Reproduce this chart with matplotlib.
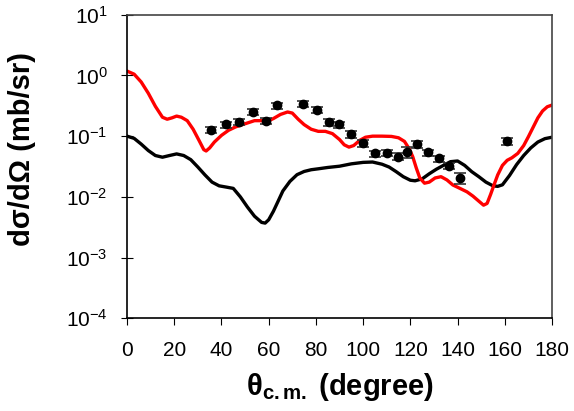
import matplotlib
matplotlib.use('Agg')
import matplotlib.pyplot as plt

plt.rcParams['font.family'] = ['Liberation Sans', 'DejaVu Sans']
plt.rcParams['mathtext.fontset'] = 'custom'
plt.rcParams['mathtext.rm'] = 'Liberation Sans'
plt.rcParams['mathtext.bf'] = 'Liberation Sans:bold'
plt.rcParams['mathtext.it'] = 'Liberation Sans:italic'

# experimental points
exp_theta = [35.4, 41.9, 47.4, 53.2, 58.7, 63.7, 74.4, 80.3, 85.6, 89.8, 94.9,
             100.1, 105.2, 110.0, 114.7, 118.5, 123.0, 127.6, 132.1, 136.5, 141.0, 160.8]
exp_xs = [0.126, 0.156, 0.173, 0.252, 0.180, 0.320, 0.340, 0.270, 0.169, 0.156, 0.108,
          0.076, 0.052, 0.053, 0.046, 0.055, 0.074, 0.054, 0.043, 0.0325, 0.0206, 0.083]
exp_err = [0.015, 0.018, 0.02, 0.03, 0.022, 0.035, 0.035, 0.03, 0.02, 0.018, 0.013,
           0.009, 0.006, 0.006, 0.006, 0.012, 0.009, 0.006, 0.005, 0.004, 0.004, 0.012]

# black curve
blk_theta = [0, 3, 6, 9, 12, 15, 18, 21, 24, 27, 30, 33, 36, 39, 42, 45, 48, 51, 54,
             57, 58.5, 60, 62, 64, 66, 69, 72, 75, 78, 81, 85, 90, 95, 100, 104, 108,
             111, 114, 117, 120, 122, 125, 128, 131, 134, 137, 140, 143, 146, 149,
             152, 155, 157, 159, 162, 165, 168, 171, 174, 177, 180]
blk_xs = [0.100, 0.092, 0.074, 0.058, 0.048, 0.045, 0.048, 0.051, 0.048, 0.041, 0.031,
          0.023, 0.0175, 0.0152, 0.0145, 0.0138, 0.010, 0.0068, 0.0048, 0.0038, 0.0037,
          0.0042, 0.0058, 0.0085, 0.0125, 0.018, 0.0232, 0.0262, 0.028, 0.029, 0.0305,
          0.032, 0.035, 0.037, 0.0375, 0.0345, 0.031, 0.026, 0.0215, 0.0188, 0.0184,
          0.0198, 0.024, 0.0285, 0.033, 0.038, 0.039, 0.033, 0.026, 0.0215, 0.0175,
          0.0152, 0.0149, 0.0158, 0.0225, 0.034, 0.048, 0.064, 0.080, 0.091, 0.096]

# red curve
red_theta = [0, 3, 6, 9, 12, 15, 17, 19, 21, 23, 25.5, 28, 30.5, 32.5, 33.5, 35, 37,
             40, 43, 46, 50, 54, 57, 59.5, 62, 65, 68, 70, 72.5, 75, 78, 81, 84, 87,
             90, 92, 94, 96, 98.5, 101, 104, 108, 112, 115, 117.5, 119.5, 121, 122.5,
             124, 126, 128, 130.5, 133, 135.5, 138, 141, 144, 146.5, 149, 151, 152.5,
             154, 155.5, 157, 159, 161, 163, 165.5, 168, 170, 172, 174, 176, 178, 180]
red_xs = [1.18, 1.05, 0.78, 0.51, 0.31, 0.205, 0.19, 0.2, 0.214, 0.205, 0.18, 0.13,
          0.085, 0.06, 0.057, 0.064, 0.08, 0.103, 0.125, 0.142, 0.16, 0.18, 0.18, 0.176,
          0.195, 0.228, 0.25, 0.24, 0.19, 0.155, 0.13, 0.12, 0.12, 0.11, 0.088, 0.072,
          0.066, 0.07, 0.085, 0.096, 0.1, 0.1, 0.099, 0.094, 0.082, 0.062, 0.046, 0.03,
          0.0205, 0.0168, 0.0175, 0.0205, 0.0215, 0.019, 0.0157, 0.0138, 0.0121, 0.0103,
          0.0085, 0.0073, 0.0078, 0.011, 0.016, 0.023, 0.033, 0.04, 0.044, 0.052, 0.07,
          0.098, 0.14, 0.2, 0.26, 0.305, 0.325]

xticks = [0, 20, 40, 60, 80, 100, 120, 140, 160, 180]
yticks = [1e-4, 1e-3, 1e-2, 1e-1, 1e0, 1e1]
ytick_labels = [r'$\mathregular{10^{-4}}$', r'$\mathregular{10^{-3}}$', r'$\mathregular{10^{-2}}$',
                r'$\mathregular{10^{-1}}$', r'$\mathregular{10^{0}}$', r'$\mathregular{10^{1}}$']

fig = plt.figure(figsize=(5.74, 4.11), dpi=100)
ax = fig.add_axes([0.2213, 0.2255, 0.7404, 0.7387])

ax.plot(blk_theta, blk_xs, color='black', lw=2.4, solid_joinstyle='round')
ax.plot(red_theta, red_xs, color='#ff0000', lw=2.4, solid_joinstyle='round')
ax.errorbar(exp_theta, exp_xs, yerr=exp_err, fmt='o', color='black', ms=6,
            ecolor='#333333', elinewidth=1.2, capsize=4, capthick=1.2)

ax.set_yscale('log')
ax.set_xlim(0, 180)
ax.set_ylim(1e-4, 1e1)
ax.set_xticks(xticks)
ax.set_xticklabels([str(t) for t in xticks])
ax.set_yticks(yticks)
ax.set_yticklabels(ytick_labels)
ax.minorticks_off()
ax.tick_params(axis='y', direction='inout', length=8, labelsize=15, pad=10)
ax.tick_params(axis='x', direction='out', length=5, labelsize=15, pad=11)

for s in ['top', 'right']:
    ax.spines[s].set_color('#444444')
for s in ax.spines.values():
    s.set_linewidth(1.2)

ax.set_xlabel(r'$\mathbf{\theta_{c.m.}}$ (degree)', fontsize=21, fontweight='bold')
ax.set_ylabel('dσ/dΩ (mb/sr)', fontsize=21, fontweight='bold')
ax.xaxis.set_label_coords(0.50, -0.175)
ax.yaxis.set_label_coords(-0.215, 0.558)

fig.savefig('out.png', dpi=100)
